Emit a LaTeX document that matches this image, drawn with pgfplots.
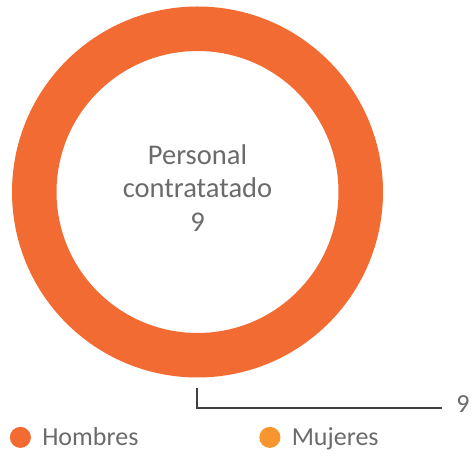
\documentclass[border=0pt]{standalone}
\usepackage{fontspec}
\setmainfont{Carlito}
\usepackage{pgfplots}
\pgfplotsset{compat=1.18}
\definecolor{hombres}{HTML}{F26B32}
\definecolor{mujeres}{HTML}{F7962F}
\definecolor{txt}{HTML}{6B6B6B}
\definecolor{leader}{HTML}{404040}

% one row per slice: value
\pgfplotstableread{
name value
Hombres 9
Mujeres 0
}\slices

\begin{document}
\begin{tikzpicture}
\begin{axis}[
    scale only axis, width=357pt, height=342pt,
    xmin=0, xmax=476, ymin=0, ymax=456,
    hide axis, clip=false,
    legend columns=2,
    legend cell align=left,
    legend style={draw=none, fill=none, at={(axis cs:2,3)}, anchor=south west,
        font=\fontsize{19.5}{22}\selectfont, text=txt,
        /tikz/every even column/.append style={column sep=86pt}},
    legend image code/.code={\path[draw=none, fill=none] (0pt,0pt) -- (25pt,0pt);
        \fill[#1, draw=none] (10.6pt,0pt) circle (7.9pt);},
]
% ring: Hombres holds 9 of 9, so the whole circle
\pgfplotstablegetelem{0}{value}\of\slices \let\vh\pgfplotsretval
\fill[hombres, even odd rule] (axis cs:197.5,264) circle[radius=185.5]
    (axis cs:197.5,264) circle[radius=141];
\addlegendimage{hombres}\addlegendentry{Hombres}
\addlegendimage{mujeres}\addlegendentry{Mujeres}

\node[text=txt, align=center, font=\fontsize{21.4}{25}\selectfont]
    at (axis cs:197.5,268) {Personal\\contratatado\\\vh};

% leader line to the value label
\draw[leader, line width=0.9pt] (axis cs:197,68) -- (axis cs:197,48) -- (axis cs:442,48);
\node[text=txt, anchor=base west, font=\fontsize{19.5}{22}\selectfont, inner sep=0pt]
    at (axis cs:456,43) {\vh};
\coordinate (ll) at (axis cs:0,0);
\coordinate (ur) at (axis cs:476,456);
\end{axis}
\pgfresetboundingbox
\useasboundingbox (ll) rectangle (ur);
\end{tikzpicture}
\end{document}
